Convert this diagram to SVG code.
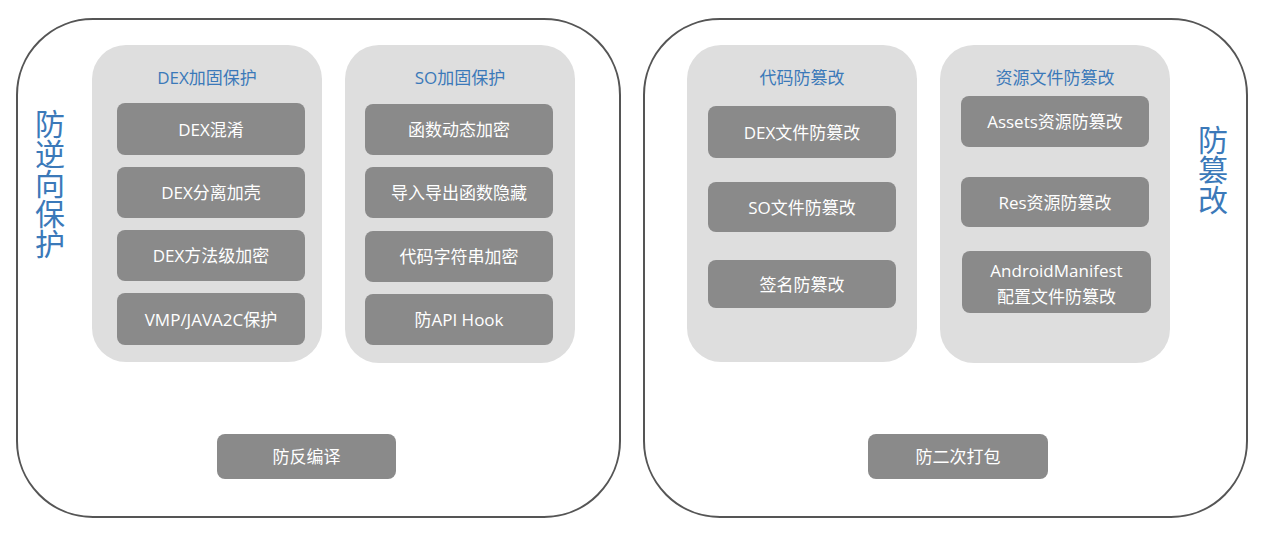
<svg xmlns="http://www.w3.org/2000/svg" width="1262" height="537" viewBox="0 0 1262 537">
<style>
.outer{fill:#fff;stroke:#555;stroke-width:2}
.panel{fill:#dedede}
.item{fill:#8a8a8a}
.t{font-family:"Open Sans","Noto Sans CJK SC",sans-serif;font-size:17px;fill:#fff;text-anchor:middle;dominant-baseline:central}
.h{font-family:"Open Sans","Noto Sans CJK SC",sans-serif;font-size:17px;fill:#3b79b9;text-anchor:middle;dominant-baseline:central}
.v{font-family:"Noto Sans CJK SC",sans-serif;font-size:30px;fill:#3b79b9;writing-mode:vertical-rl;text-anchor:start}
</style>
<rect width="1262" height="537" fill="#fff"/>
<g id="anti-reverse">
<rect class="outer" x="17" y="19" width="603" height="498" rx="76" ry="76"/>
<text class="v" x="50" y="109">防逆向保护</text>
</g>
<g id="dex-panel">
<rect class="panel" x="92" y="45" width="230" height="317" rx="34"/>
<text class="h" x="207" y="77">DEX加固保护</text>
</g>
<g id="dex1"><rect class="item" x="117" y="103" width="188" height="52" rx="8"/><text class="t" x="211" y="129">DEX混淆</text></g>
<g id="dex2"><rect class="item" x="117" y="167" width="188" height="51" rx="8"/><text class="t" x="211" y="192.5">DEX分离加壳</text></g>
<g id="dex3"><rect class="item" x="117" y="230" width="188" height="51" rx="8"/><text class="t" x="211" y="255.5">DEX方法级加密</text></g>
<g id="dex4"><rect class="item" x="117" y="293" width="188" height="52" rx="8"/><text class="t" x="211" y="319">VMP/JAVA2C保护</text></g>
<g id="so-panel">
<rect class="panel" x="345" y="45" width="230" height="318" rx="34"/>
<text class="h" x="460" y="77">SO加固保护</text>
</g>
<g id="so1"><rect class="item" x="365" y="104" width="188" height="51" rx="8"/><text class="t" x="459" y="129.5">函数动态加密</text></g>
<g id="so2"><rect class="item" x="365" y="167" width="188" height="51" rx="8"/><text class="t" x="459" y="192.5">导入导出函数隐藏</text></g>
<g id="so3"><rect class="item" x="365" y="231" width="188" height="51" rx="8"/><text class="t" x="459" y="256.5">代码字符串加密</text></g>
<g id="so4"><rect class="item" x="365" y="294" width="188" height="51" rx="8"/><text class="t" x="459" y="319.5">防API Hook</text></g>
<g id="anti-decompile"><rect class="item" x="217" y="434" width="179" height="45" rx="8"/><text class="t" x="306.5" y="456.5">防反编译</text></g>
<g id="anti-tamper">
<rect class="outer" x="644" y="19" width="603" height="498" rx="76" ry="76"/>
<text class="v" x="1213" y="125">防篡改</text>
</g>
<g id="code-panel">
<rect class="panel" x="687" y="45" width="230" height="317" rx="34"/>
<text class="h" x="802" y="77">代码防篡改</text>
</g>
<g id="code1"><rect class="item" x="708" y="106" width="188" height="52" rx="8"/><text class="t" x="802" y="132">DEX文件防篡改</text></g>
<g id="code2"><rect class="item" x="708" y="182" width="188" height="50" rx="8"/><text class="t" x="802" y="207">SO文件防篡改</text></g>
<g id="code3"><rect class="item" x="708" y="260" width="188" height="48" rx="8"/><text class="t" x="802" y="284">签名防篡改</text></g>
<g id="res-panel">
<rect class="panel" x="940" y="45" width="230" height="318" rx="34"/>
<text class="h" x="1055" y="77">资源文件防篡改</text>
</g>
<g id="res1"><rect class="item" x="961" y="96" width="188" height="51" rx="8"/><text class="t" x="1055" y="121.5">Assets资源防篡改</text></g>
<g id="res2"><rect class="item" x="961" y="177" width="188" height="50" rx="8"/><text class="t" x="1055" y="202">Res资源防篡改</text></g>
<g id="res3"><rect class="item" x="962" y="251" width="189" height="62" rx="8"/><text class="t" x="1056.5" y="270">AndroidManifest</text><text class="t" x="1056.5" y="296">配置文件防篡改</text></g>
<g id="anti-repack"><rect class="item" x="868" y="434" width="180" height="45" rx="8"/><text class="t" x="958" y="456.5">防二次打包</text></g>
<g id="connectors"></g>
</svg>
